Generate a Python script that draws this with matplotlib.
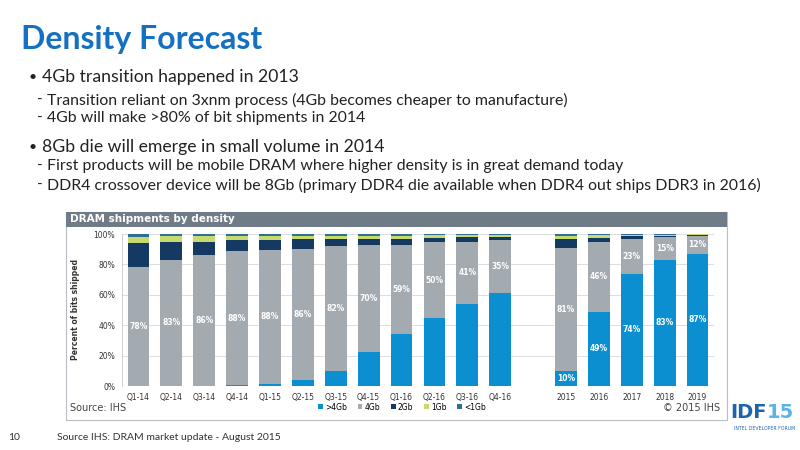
import numpy as np
import matplotlib
matplotlib.use("Agg")
import matplotlib.pyplot as plt
from matplotlib.patches import Rectangle

# data (percent of bits shipped)
periods = ['Q1-14', 'Q2-14', 'Q3-14', 'Q4-14', 'Q1-15', 'Q2-15', 'Q3-15', 'Q4-15',
           'Q1-16', 'Q2-16', 'Q3-16', 'Q4-16', '2015', '2016', '2017', '2018', '2019']
gt4 = [0, 0, 0, 0.5, 1.5, 4, 10, 22.5, 34, 44.5, 54, 61, 10, 49, 74, 83, 87]
g4 = [78, 83, 86, 88, 88, 86, 82, 70, 59, 50, 41, 35, 81, 46, 23, 15, 12]
g2 = [16, 12, 9, 7.5, 6.5, 6.5, 5, 4.5, 4, 3, 3, 2, 5.5, 2.5, 1.5, 0.5, 0.3]
g1 = [4, 3.5, 3.5, 2.8, 2.5, 2.5, 2, 2, 2, 1.7, 1.3, 1.3, 2.5, 1.8, 1, 0.8, 0.4]
lt1 = [2, 1.5, 1.5, 1.2, 1.5, 1, 1, 1, 1, 0.8, 0.7, 0.7, 1, 0.7, 0.5, 0.7, 0.3]
gt4_labelled = [False] * 12 + [True] * 5

series = ['>4Gb', '4Gb', '2Gb', '1Gb', '<1Gb']
colors = ['#0b8fd0', '#a3aab0', '#143a63', '#c6da6e', '#2f6e96']

W, H = 800, 450
fig = plt.figure(figsize=(8, 4.5), dpi=100)
fig.patch.set_facecolor('white')
plt.rcParams['font.family'] = ['Lato', 'DejaVu Sans']
small = ['DejaVu Sans']

def fx(x):
    return x / W

def fy(y):
    return 1 - y / H

# slide text
fig.text(fx(21), fy(40), 'Density Forecast', color='#1470c0', fontsize=23,
         fontweight='bold', va='center', ha='left')
bullets = [(77, 0, '4Gb transition happened in 2013'),
           (100, 1, 'Transition reliant on 3xnm process (4Gb becomes cheaper to manufacture)'),
           (118, 1, '4Gb will make >80% of bit shipments in 2014'),
           (147, 0, '8Gb die will emerge in small volume in 2014'),
           (166, 1, 'First products will be mobile DRAM where higher density is in great demand today'),
           (185, 1, 'DDR4 crossover device will be 8Gb (primary DDR4 die available when DDR4 out ships DDR3 in 2016)')]
for y, lvl, txt in bullets:
    if lvl == 0:
        fig.text(fx(29), fy(y), '•', fontsize=10, va='center', color='#222222')
        fig.text(fx(42), fy(y), txt, fontsize=12.7, va='center', color='#222222')
    else:
        fig.text(fx(37), fy(y), '-', fontsize=11, va='center', color='#222222')
        fig.text(fx(47), fy(y), txt, fontsize=11.4, va='center', color='#222222')

# chart panel
fig.patches.append(Rectangle((fx(66), fy(420)), fx(661), 208 / H, transform=fig.transFigure,
                             facecolor='white', edgecolor='#b8bec4', lw=0.8, zorder=-2))
fig.patches.append(Rectangle((fx(66), fy(227)), fx(661), 15 / H, transform=fig.transFigure,
                             facecolor='#6f7b87', edgecolor='none', zorder=-1))
fig.text(fx(70), fy(219.5), 'DRAM shipments by density', color='white', fontsize=7.5,
         fontweight='bold', va='center', family=small)

ax = fig.add_axes([fx(122), fy(386), fx(592), 152 / H])
ax.set_facecolor('none')
pos = np.r_[0:12, 13:18]
bottom = np.zeros(len(periods))
for name, vals, c in zip(series, [gt4, g4, g2, g1, lt1], colors):
    ax.bar(pos, vals, width=0.66, bottom=bottom, color=c, label=name, zorder=3)
    bottom += np.array(vals)

for i, p in enumerate(pos):
    ax.text(p, gt4[i] + g4[i] / 2, f'{g4[i]:.0f}%', color='white', fontsize=5.5,
            fontweight='bold', ha='center', va='center', zorder=4, family=small)
    if gt4_labelled[i]:
        ax.text(p, gt4[i] / 2, f'{gt4[i]:.0f}%', color='white', fontsize=5.5,
                fontweight='bold', ha='center', va='center', zorder=4, family=small)

ax.set_xlim(-0.5, 17.5)
ax.set_ylim(0, 100)
ax.set_xticks(pos)
ax.set_xticklabels(periods, fontsize=5.5, color='#333333', family=small)
ax.set_yticks(range(0, 101, 20))
ax.set_yticklabels([f'{v}%' for v in range(0, 101, 20)], fontsize=5.5, color='#333333',
                   family=small)
ax.tick_params(length=0, pad=5)
ax.grid(axis='y', color='#d8d8d8', lw=0.6, zorder=0)
for s in ['top', 'right', 'bottom']:
    ax.spines[s].set_visible(False)
ax.spines['left'].set_color('#c8c8c8')
ax.spines['left'].set_linewidth(0.6)
ax.set_ylabel('Percent of bits shipped', fontsize=5.5, fontweight='bold', color='#333333',
              family=small, labelpad=10)

fig.legend(*ax.get_legend_handles_labels(), loc='center', bbox_to_anchor=(fx(402), fy(407)),
           ncol=5, frameon=False, handlelength=0.6, handleheight=0.6,
           handletextpad=0.3, columnspacing=1.4, prop={'family': small, 'size': 5.5})
fig.text(fx(70), fy(408), 'Source: IHS', fontsize=7, color='#444444', va='center', family=small)
fig.text(fx(720), fy(408), '© 2015 IHS', fontsize=7, color='#444444', va='center', ha='right',
         family=small)

# footer
fig.text(fx(8), fy(438), '10', fontsize=7.5, color='#333333', va='center')
fig.text(fx(57), fy(438), 'Source IHS: DRAM market update - August 2015', fontsize=7.5,
         color='#333333', va='center')
logo_font = ['DejaVu Sans Condensed', 'DejaVu Sans']
fig.text(fx(767), fy(412), 'IDF', fontsize=14, color='#1c64ad', fontweight='bold',
         va='center', ha='right', family=logo_font)
fig.text(fx(767), fy(412), '15', fontsize=14, color='#5bb3e6', fontweight='bold',
         va='center', ha='left', family=logo_font)
fig.text(fx(765), fy(428), 'INTEL DEVELOPER FORUM', fontsize=3.3, color='#1c64ad',
         va='center', ha='center', family=logo_font)

fig.savefig('out.png', dpi=100)
